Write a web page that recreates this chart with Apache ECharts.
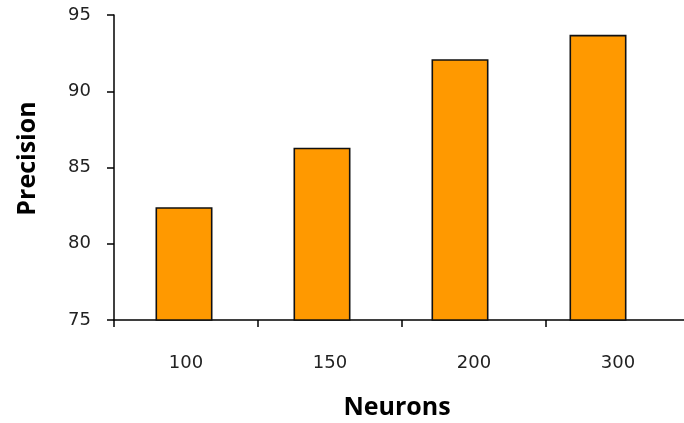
<!DOCTYPE html>
<html>
<head>
<meta charset="utf-8">
<script src="https://cdn.jsdelivr.net/npm/echarts@6/dist/echarts.min.js"></script>
<style>html,body{margin:0;padding:0;background:#fff}#c{width:684px;height:423px}</style>
</head>
<body>
<div id="c"></div>
<script>
const categories = ['100', '150', '200', '300'];
const precision = [82.4, 86.3, 92.1, 93.7];
const yMin = 75, yMax = 95, yStep = 5;
const xTitle = 'Neurons';
const yTitle = 'Precision';

const chart = echarts.init(document.getElementById('c'), null, {renderer: 'canvas'});
const labelFont = {fontFamily: 'DejaVu Sans', fontSize: 18, color: '#222'};
const titleFont = {fontFamily: 'Open Sans', fontWeight: 'bold', fontSize: 25, color: '#000'};
chart.setOption({
  animation: false,
  backgroundColor: '#fff',
  grid: [
    {left: 114, right: -6, top: 15, bottom: 103, containLabel: false, outerBoundsMode: 'none'},
    {left: 115, right: 17, top: 15, bottom: 103, containLabel: false, outerBoundsMode: 'none'}
  ],
  xAxis: [
    {
      type: 'category', gridIndex: 0, data: categories, boundaryGap: true,
      name: xTitle, nameLocation: 'middle', nameGap: 75,
      nameTextStyle: Object.assign({padding: [0, 10, 0, 0]}, titleFont),
      axisLine: {lineStyle: {color: '#000', width: 1.5}},
      axisTick: {show: true, length: 7, alignWithLabel: false, lineStyle: {color: '#000', width: 1.5}},
      axisLabel: Object.assign({margin: 34}, labelFont),
      splitLine: {show: false}
    },
    {
      type: 'category', gridIndex: 1, data: categories, show: false
    }
  ],
  yAxis: [
    {
      type: 'value', gridIndex: 0, min: yMin, max: yMax, interval: yStep,
      name: yTitle, nameLocation: 'middle', nameGap: 74, nameRotate: 90,
      nameTextStyle: Object.assign({padding: [0, 0, 0, 18]}, titleFont),
      axisLine: {show: true, lineStyle: {color: '#000', width: 1.5}},
      axisTick: {show: true, length: 7, lineStyle: {color: '#000', width: 1.5}},
      axisLabel: Object.assign({margin: 23}, labelFont),
      splitLine: {show: false}
    },
    {
      type: 'value', gridIndex: 1, min: yMin, max: yMax, interval: yStep, show: false
    }
  ],
  series: [{
    type: 'bar', xAxisIndex: 1, yAxisIndex: 1, data: precision,
    barWidth: 57,
    itemStyle: {color: '#FF9900', borderColor: '#111', borderWidth: 1.6}
  }]
});
</script>
</body>
</html>
